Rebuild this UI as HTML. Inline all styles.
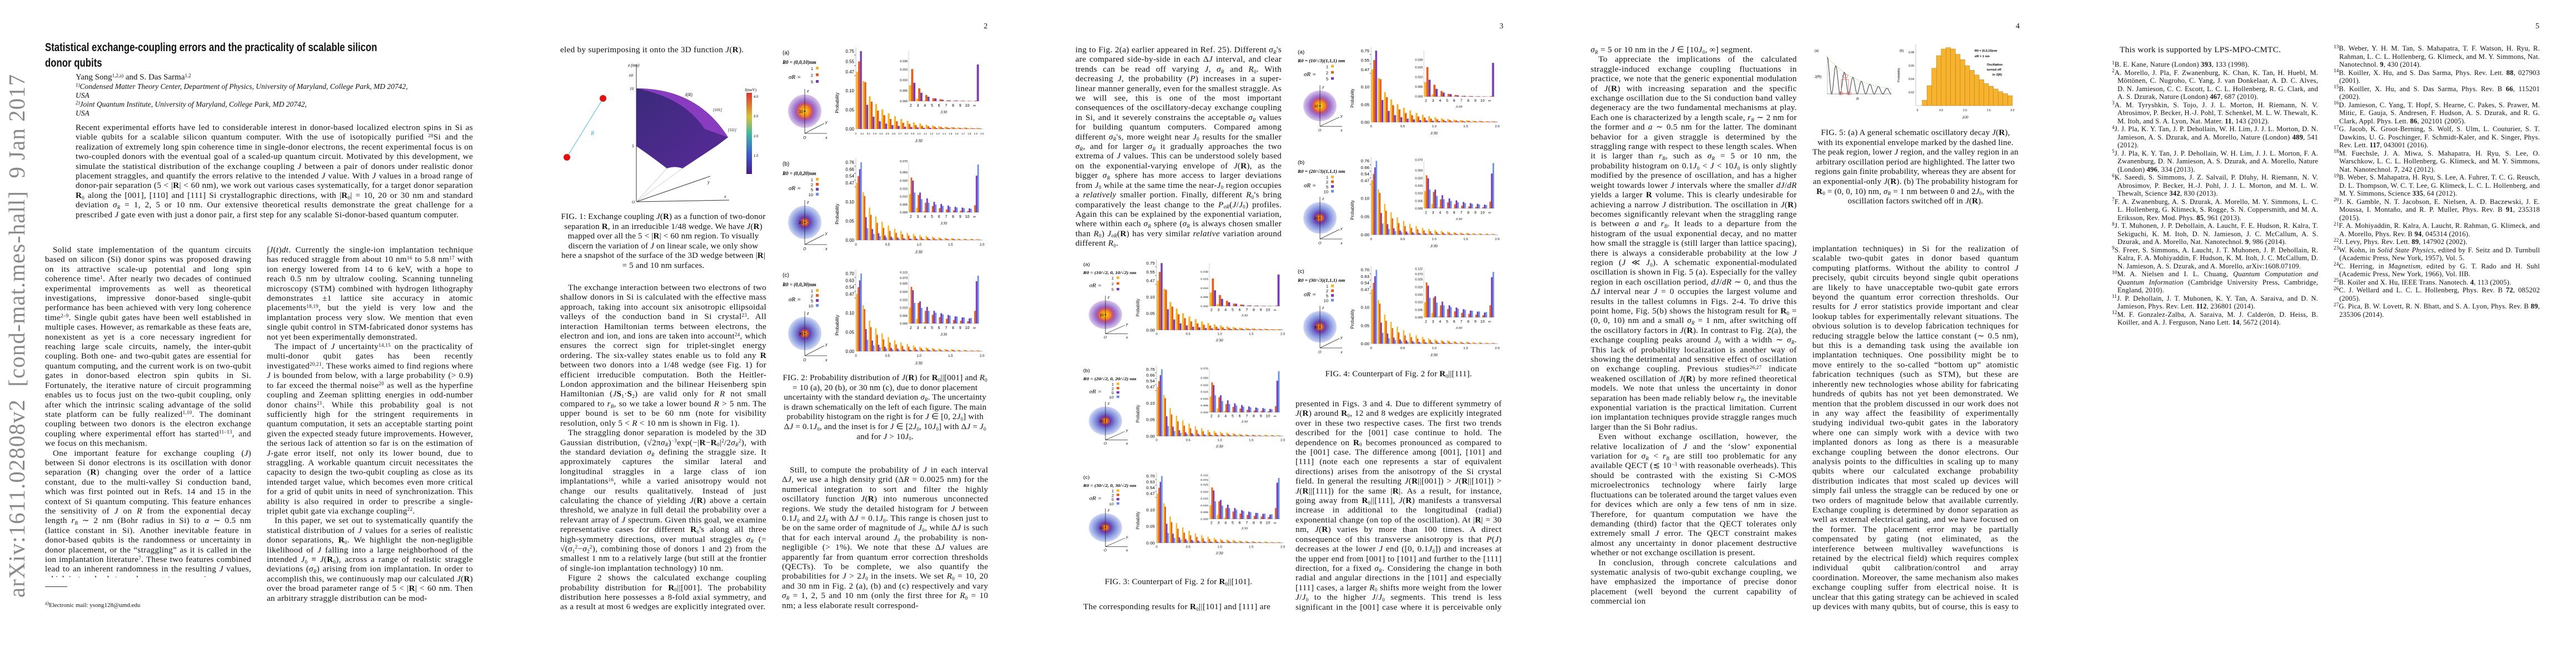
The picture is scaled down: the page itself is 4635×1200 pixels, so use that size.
<!DOCTYPE html>
<html><head><meta charset="utf-8">
<style>
html,body{margin:0;padding:0;background:#fff;}
body{width:4635px;height:1200px;position:relative;overflow:hidden;font-family:"Liberation Serif",serif;color:#111;}
.col{position:absolute;width:371px;font-size:15.2px;letter-spacing:0.3px;line-height:17.4px;text-align:justify;overflow:hidden;hyphens:auto;}
.col p{margin:0;text-indent:14px;}
.col p.ni{text-indent:0;}
sup,sub{font-size:9px;line-height:0;vertical-align:baseline;position:relative;}
sup{top:-0.5em;} sub{top:0.3em;}
.pn{position:absolute;top:40px;font-size:14px;}
.cap{position:absolute;width:371px;font-size:15px;letter-spacing:0.2px;line-height:17.6px;text-align:center;}
.refs{position:absolute;width:371px;font-size:12.6px;letter-spacing:0.2px;line-height:14.5px;text-align:justify;overflow:hidden;}
.refs div{padding-left:10px;text-indent:-10px;margin:0;}
#figs{position:absolute;left:0;top:0;}
</style></head><body>

<div style="position:absolute;left:30px;top:604px;transform:translate(-50%,-50%) rotate(-90deg);white-space:nowrap;font-size:41px;color:#8a8a8a;font-family:'Liberation Serif',serif;letter-spacing:1px;">arXiv:1611.02808v2&nbsp; [cond-mat.mes-hall]&nbsp; 9 Jan 2017</div>

<div style="position:absolute;left:81px;top:72px;font-family:'Liberation Sans',sans-serif;font-weight:bold;font-size:21px;line-height:28px;transform:scaleX(0.8);transform-origin:left top;width:940px;">Statistical exchange-coupling errors and the practicality of scalable silicon<br>donor qubits</div>
<div style="position:absolute;left:136px;top:131px;font-size:15px;line-height:17px;">Yang Song<sup>1,2,a)</sup> and S. Das Sarma<sup>1,2</sup></div>
<div style="position:absolute;left:136px;top:148px;font-size:13.5px;line-height:16px;font-style:italic;width:700px;"><sup>1)</sup>Condensed Matter Theory Center, Department of Physics, University of Maryland, College Park, MD 20742,<br>USA<br><sup>2)</sup>Joint Quantum Institute, University of Maryland, College Park, MD 20742,<br>USA</div>
<div class="col" style="left:136px;top:221px;width:715px;height:192px;"><p class="ni">Recent experimental efforts have led to considerable interest in donor-based localized electron spins in Si as viable qubits for a scalable silicon quantum computer. With the use of isotopically purified <sup>28</sup>Si and the realization of extremely long spin coherence time in single-donor electrons, the recent experimental focus is on two-coupled donors with the eventual goal of a scaled-up quantum circuit. Motivated by this development, we simulate the statistical distribution of the exchange coupling <i>J</i> between a pair of donors under realistic donor placement straggles, and quantify the errors relative to the intended <i>J</i> value. With <i>J</i> values in a broad range of donor-pair separation (5 &lt; |<b>R</b>| &lt; 60 nm), we work out various cases systematically, for a target donor separation <b>R</b><sub>0</sub> along the [001], [110] and [111] Si crystallographic directions, with |<b>R</b><sub>0</sub>| = 10, 20 or 30 nm and standard deviation <i>σ<sub>R</sub></i> = 1, 2, 5 or 10 nm. Our extensive theoretical results demonstrate the great challenge for a prescribed <i>J</i> gate even with just a donor pair, a first step for any scalable Si-donor-based quantum computer.</p></div>

<div class="col" style="left:81px;top:441px;height:598px;"><p>Solid state implementation of the quantum circuits based on silicon (Si) donor spins was proposed drawing on its attractive scale-up potential and long spin coherence time<sup>1</sup>. After nearly two decades of continued experimental improvements as well as theoretical investigations, impressive donor-based single-qubit performance has been achieved with very long coherence time<sup>2–9</sup>. Single qubit gates have been well established in multiple cases. However, as remarkable as these feats are, nonexistent as yet is a core necessary ingredient for reaching large scale circuits, namely, the inter-qubit coupling. Both one- and two-qubit gates are essential for quantum computing, and the current work is on two-qubit gates in donor-based electron spin qubits in Si. Fortunately, the iterative nature of circuit programming enables us to focus just on the two-qubit coupling, only after which the intrinsic scaling advantage of the solid state platform can be fully realized<sup>1,10</sup>. The dominant coupling between two donors is the electron exchange coupling where experimental effort has started<sup>11–13</sup>, and we focus on this mechanism.</p><p>One important feature for exchange coupling (<i>J</i>) between Si donor electrons is its oscillation with donor separation (<b>R</b>) changing over the order of a lattice constant, due to the multi-valley Si conduction band, which was first pointed out in Refs. 14 and 15 in the context of Si quantum computing. This feature enhances the sensitivity of <i>J</i> on <i>R</i> from the exponential decay length <i>r<sub>B</sub></i> ∼ 2 nm (Bohr radius in Si) to <i>a</i> ∼ 0.5 nm (lattice constant in Si). Another inevitable feature in donor-based qubits is the randomness or uncertainty in donor placement, or the “straggling” as it is called in the ion implantation literature<sup>7</sup>. These two features combined lead to an inherent randomness in the resulting <i>J</i> values, which in turn leads to exchange gate errors via</p></div>
<div style="position:absolute;left:81px;top:1055px;width:40px;height:1px;background:#333;"></div>
<div style="position:absolute;left:81px;top:1083px;font-size:11px;"><sup>a)</sup>Electronic mail: ysong128@umd.edu</div>

<div class="col" style="left:480px;top:441px;height:662px;"><p class="ni">∫<i>J</i>(<i>t</i>)<i>dt</i>. Currently the single-ion implantation technique has reduced straggle from about 10 nm<sup>16</sup> to 5.8 nm<sup>17</sup> with ion energy lowered from 14 to 6 keV, with a hope to reach 0.5 nm by ultralow cooling. Scanning tunneling microscopy (STM) combined with hydrogen lithography demonstrates ±1 lattice site accuracy in atomic placements<sup>18,19</sup>, but the yield is very low and the implantation process very slow. We mention that even single qubit control in STM-fabricated donor systems has not yet been experimentally demonstrated.</p><p>The impact of <i>J</i> uncertainty<sup>14,15</sup> on the practicality of multi-donor qubit gates has been recently investigated<sup>20,21</sup>. These works aimed to find regions where <i>J</i> is bounded from below, with a large probability (&gt; 0.9) to far exceed the thermal noise<sup>20</sup> as well as the hyperfine coupling and Zeeman splitting energies in odd-number donor chains<sup>21</sup>. While this probability goal is not sufficiently high for the stringent requirements in quantum computation, it sets an acceptable starting point given the expected steady future improvements. However, the serious lack of attention so far is on the estimation of <i>J</i>-gate error itself, not only its lower bound, due to straggling. A workable quantum circuit necessitates the capacity to design the two-qubit coupling as close as its intended target value, which becomes even more critical for a grid of qubit units in need of synchronization. This ability is also required in order to prescribe a single-triplet qubit gate via exchange coupling<sup>22</sup>.</p><p>In this paper, we set out to systematically quantify the statistical distribution of <i>J</i> values for a series of realistic donor separations, <b>R</b><sub>0</sub>. We highlight the non-negligible likelihood of <i>J</i> falling into a large neighborhood of the intended <i>J</i><sub>0</sub> ≡ <i>J</i>(<b>R</b><sub>0</sub>), across a range of realistic straggle deviations (<i>σ<sub>R</sub></i>) arising from ion implantation. In order to accomplish this, we continuously map our calculated <i>J</i>(<b>R</b>) over the broad parameter range of 5 &lt; |<b>R</b>| &lt; 60 nm. Then an arbitrary straggle distribution can be mod-</p></div>

<!-- PAGE 2 -->
<div class="pn" style="left:1770px;">2</div>
<div class="col" style="left:1008px;top:81px;height:18px;"><p class="ni">eled by superimposing it onto the 3D function <i>J</i>(<b>R</b>).</p></div>
<div class="cap" style="left:1008px;top:382px;">FIG. 1: Exchange coupling <i>J</i>(<b>R</b>) as a function of two-donor separation <b>R</b>, in an irreducible 1/48 wedge. We have <i>J</i>(<b>R</b>) mapped over all the 5 &lt; |<b>R</b>| &lt; 60 nm region. To visually discern the variation of <i>J</i> on linear scale, we only show here a snapshot of the surface of the 3D wedge between |<b>R</b>| = 5 and 10 nm surfaces.</div>
<div class="col" style="left:1008px;top:509px;height:594px;"><p>The exchange interaction between two electrons of two shallow donors in Si is calculated with the effective mass approach, taking into account six anisotropic ellipsoidal valleys of the conduction band in Si crystal<sup>23</sup>. All interaction Hamiltonian terms between electrons, the electron and ion, and ions are taken into account<sup>24</sup>, which ensures the correct sign for triplet-singlet energy ordering. The six-valley states enable us to fold any <b>R</b> between two donors into a 1/48 wedge (see Fig. 1) for efficient irreducible computation. Both the Heitler-London approximation and the bilinear Heisenberg spin Hamiltonian (<i>J</i><b>S</b><sub>1</sub>·<b>S</b><sub>2</sub>) are valid only for <i>R</i> not small compared to <i>r<sub>B</sub></i>, so we take a lower bound <i>R</i> &gt; 5 nm. The upper bound is set to be 60 nm (note for visibility resolution, only 5 &lt; <i>R</i> &lt; 10 nm is shown in Fig. 1).</p><p>The straggling donor separation is modeled by the 3D Gaussian distribution, (√2π<i>σ<sub>R</sub></i>)<sup>−3</sup>exp(−|<b>R</b>−<b>R</b><sub>0</sub>|<sup>2</sup>/2<i>σ<sub>R</sub></i><sup>2</sup>), with the standard deviation <i>σ<sub>R</sub></i> defining the straggle size. It approximately captures the similar lateral and longitudinal straggles in a large class of ion implantations<sup>16</sup>, while a varied anisotropy would not change our results qualitatively. Instead of just calculating the chance of yielding <i>J</i>(<b>R</b>) above a certain threshold, we analyze in full detail the probability over a relevant array of <i>J</i> spectrum. Given this goal, we examine representative cases for different <b>R</b><sub>0</sub>'s along all three high-symmetry directions, over mutual straggles <i>σ<sub>R</sub></i> (= √(<i>σ</i><sub>1</sub><sup>2</sup>−<i>σ</i><sub>2</sub><sup>2</sup>), combining those of donors 1 and 2) from the smallest 1 nm to a relatively large (but still at the frontier of single-ion implantation technology) 10 nm.</p><p>Figure 2 shows the calculated exchange coupling probability distribution for <b>R</b><sub>0</sub>||[001]. The probability distribution here possesses a 8-fold axial symmetry, and as a result at most 6 wedges are explicitly integrated over.</p></div>
<div class="cap" style="left:1407px;top:672px;">FIG. 2: Probability distribution of <i>J</i>(<b>R</b>) for <b>R</b><sub>0</sub>||[001] and <i>R</i><sub>0</sub> = 10 (a), 20 (b), or 30 nm (c), due to donor placement uncertainty with the standard deviation <i>σ<sub>R</sub></i>. The uncertainty is drawn schematically on the left of each figure. The main probability histogram on the right is for <i>J</i> ∈ [0, 2<i>J</i><sub>0</sub>] with Δ<i>J</i> = 0.1<i>J</i><sub>0</sub>, and the inset is for <i>J</i> ∈ [2<i>J</i><sub>0</sub>, 10<i>J</i><sub>0</sub>] with Δ<i>J</i> = <i>J</i><sub>0</sub> and for <i>J</i> &gt; 10<i>J</i><sub>0</sub>.</div>
<div class="col" style="left:1407px;top:837px;height:266px;"><p>Still, to compute the probability of <i>J</i> in each interval Δ<i>J</i>, we use a high density grid (Δ<i>R</i> = 0.0025 nm) for the numerical integration to sort and filter the highly oscillatory function <i>J</i>(<b>R</b>) into numerous unconnected regions. We study the detailed histogram for <i>J</i> between 0.1<i>J</i><sub>0</sub> and 2<i>J</i><sub>0</sub> with Δ<i>J</i> = 0.1<i>J</i><sub>0</sub>. This range is chosen just to be on the same order of magnitude of <i>J</i><sub>0</sub>, while Δ<i>J</i> is such that for each interval around <i>J</i><sub>0</sub> the probability is non-negligible (&gt; 1%). We note that these Δ<i>J</i> values are apparently far from quantum error correction thresholds (QECTs). To be complete, we also quantify the probabilities for <i>J</i> &gt; 2<i>J</i><sub>0</sub> in the insets. We set <i>R</i><sub>0</sub> = 10, 20 and 30 nm in Fig. 2 (a), (b) and (c) respectively and vary <i>σ<sub>R</sub></i> = 1, 2, 5 and 10 nm (only the first three for <i>R</i><sub>0</sub> = 10 nm; a less elaborate result correspond-</p></div>

<!-- PAGE 3 -->
<div class="pn" style="left:2698px;">3</div>
<div class="col" style="left:1935px;top:81px;height:370px;"><p class="ni">ing to Fig. 2(a) earlier appeared in Ref. 25). Different <i>σ<sub>R</sub></i>'s are compared side-by-side in each Δ<i>J</i> interval, and clear trends can be read off varying <i>J</i>, <i>σ<sub>R</sub></i> and <i>R</i><sub>0</sub>. With decreasing <i>J</i>, the probability (<i>P</i>) increases in a super-linear manner generally, even for the smallest straggle. As we will see, this is one of the most important consequences of the oscillatory-decay exchange coupling in Si, and it severely constrains the acceptable <i>σ<sub>R</sub></i> values for building quantum computers. Compared among different <i>σ<sub>R</sub></i>'s, more weight near <i>J</i><sub>0</sub> results for the smaller <i>σ<sub>R</sub></i>, and for larger <i>σ<sub>R</sub></i> it gradually approaches the two extrema of <i>J</i> values. This can be understood solely based on the exponential-varying envelope of <i>J</i>(<b>R</b>), as the bigger <i>σ<sub>R</sub></i> sphere has more access to larger deviations from <i>J</i><sub>0</sub> while at the same time the near-<i>J</i><sub>0</sub> region occupies a <i>relatively</i> smaller portion. Finally, different <i>R</i><sub>0</sub>'s bring comparatively the least change to the <i>P<sub>σR</sub></i>(<i>J</i>/<i>J</i><sub>0</sub>) profiles. Again this can be explained by the exponential variation, where within each <i>σ<sub>R</sub></i> sphere (<i>σ<sub>R</sub></i> is always chosen smaller than <i>R</i><sub>0</sub>) <i>J<sub>σR</sub></i>(<b>R</b>) has very similar <i>relative</i> variation around different <i>R</i><sub>0</sub>.</p></div>
<div class="cap" style="left:1935px;top:1039px;">FIG. 3: Counterpart of Fig. 2 for <b>R</b><sub>0</sub>||[101].</div>
<div class="col" style="left:1935px;top:1083px;height:19px;"><p>The corresponding results for <b>R</b><sub>0</sub>||[101] and [111] are</p></div>
<div class="cap" style="left:2331px;top:665px;">FIG. 4: Counterpart of Fig. 2 for <b>R</b><sub>0</sub>||[111].</div>
<div class="col" style="left:2331px;top:718px;height:385px;"><p class="ni">presented in Figs. 3 and 4. Due to different symmetry of <i>J</i>(<b>R</b>) around <b>R</b><sub>0</sub>, 12 and 8 wedges are explicitly integrated over in these two respective cases. The first two trends described for the [001] case continue to hold. The dependence on <b>R</b><sub>0</sub> becomes pronounced as compared to the [001] case. The difference among [001], [101] and [111] (note each one represents a star of equivalent directions) arises from the anisotropy of the Si crystal field. In general the resulting <i>J</i>(<b>R</b>||[001]) &gt; <i>J</i>(<b>R</b>||[101]) &gt; <i>J</i>(<b>R</b>||[111]) for the same |<b>R</b>|. As a result, for instance, going away from <b>R</b><sub>0</sub>||[111], <i>J</i>(<b>R</b>) manifests a transversal increase in additional to the longitudinal (radial) exponential change (on top of the oscillation). At |<b>R</b>| = 30 nm, <i>J</i>(<b>R</b>) varies by more than 100 times. A direct consequence of this transverse anisotropy is that <i>P</i>(<i>J</i>) decreases at the lower <i>J</i> end ([0, 0.1<i>J</i><sub>0</sub>]) and increases at the upper end from [001] to [101] and further to the [111] direction, for a fixed <i>σ<sub>R</sub></i>. Considering the change in both radial and angular directions in the [101] and especially [111] cases, a larger <i>R</i><sub>0</sub> shifts more weight from the lower <i>J</i>/<i>J</i><sub>0</sub> to the higher <i>J</i>/<i>J</i><sub>0</sub> segments. This trend is less significant in the [001] case where it is perceivable only for</p></div>

<!-- PAGE 4 -->
<div class="pn" style="left:3627px;">4</div>
<div class="col" style="left:2862px;top:81px;height:1022px;"><p class="ni"><i>σ<sub>R</sub></i> = 5 or 10 nm in the <i>J</i> ∈ [10<i>J</i><sub>0</sub>, ∞] segment.</p><p>To appreciate the implications of the calculated straggle-induced exchange coupling fluctuations in practice, we note that the generic exponential modulation of <i>J</i>(<b>R</b>) with increasing separation and the specific exchange oscillation due to the Si conduction band valley degeneracy are the two fundamental mechanisms at play. Each one is characterized by a length scale, <i>r<sub>B</sub></i> ∼ 2 nm for the former and <i>a</i> ∼ 0.5 nm for the latter. The dominant behavior for a given straggle is determined by the straggling range with respect to these length scales. When it is larger than <i>r<sub>B</sub></i>, such as <i>σ<sub>R</sub></i> = 5 or 10 nm, the probability histogram on 0.1<i>J</i><sub>0</sub> &lt; <i>J</i> &lt; 10<i>J</i><sub>0</sub> is only slightly modified by the presence of oscillation, and has a higher weight towards lower <i>J</i> intervals where the smaller <i>dJ</i>/<i>dR</i> yields a larger <b>R</b> volume. This is clearly undesirable for achieving a narrow <i>J</i> distribution. The oscillation in <i>J</i>(<b>R</b>) becomes significantly relevant when the straggling range is between <i>a</i> and <i>r<sub>B</sub></i>. It leads to a departure from the histogram of the usual exponential decay, and no matter how small the straggle is (still larger than lattice spacing), there is always a considerable probability at the low <i>J</i> region (<i>J</i> ≪ <i>J</i><sub>0</sub>). A schematic exponential-modulated oscillation is shown in Fig. 5 (a). Especially for the valley region in each oscillation period, <i>dJ</i>/<i>dR</i> ∼ 0, and thus the Δ<i>J</i> interval near <i>J</i> = 0 occupies the largest volume and results in the tallest columns in Figs. 2-4. To drive this point home, Fig. 5(b) shows the histogram result for <b>R</b><sub>0</sub> = (0, 0, 10) nm and a small <i>σ<sub>R</sub></i> = 1 nm, after switching off the oscillatory factors in <i>J</i>(<b>R</b>). In contrast to Fig. 2(a), the exchange coupling peaks around <i>J</i><sub>0</sub> with a width ∼ <i>σ<sub>R</sub></i>. This lack of probability localization is another way of showing the detrimental and sensitive effect of oscillation on exchange coupling. Previous studies<sup>26,27</sup> indicate weakened oscillation of <i>J</i>(<b>R</b>) by more refined theoretical models. We note that unless the uncertainty in donor separation has been made reliably below <i>r<sub>B</sub></i>, the inevitable exponential variation is the practical limitation. Current ion implantation techniques provide straggle ranges much larger than the Si Bohr radius.</p><p>Even without exchange oscillation, however, the relative localization of <i>J</i> and the ‘slow’ exponential variation for <i>σ<sub>R</sub></i> &lt; <i>r<sub>B</sub></i> are still too problematic for any available QECT (≲ 10<sup>−3</sup> with reasonable overheads). This should be contrasted with the existing Si C-MOS microelectronics technology where fairly large fluctuations can be tolerated around the target values even for devices which are only a few tens of nm in size. Therefore, for quantum computation we have the demanding (third) factor that the QECT tolerates only extremely small <i>J</i> error. The QECT constraint makes almost any uncertainty in donor placement destructive whether or not exchange oscillation is present.</p><p>In conclusion, through concrete calculations and systematic analysis of two-qubit exchange coupling, we have emphasized the importance of precise donor placement (well beyond the current capability of commercial ion</p></div>
<div class="cap" style="left:3261px;top:231px;">FIG. 5: (a) A general schematic oscillatory decay <i>J</i>(<b>R</b>), with its exponential envelope marked by the dashed line. The peak region, lower <i>J</i> region, and the valley region in an arbitrary oscillation period are highlighted. The latter two regions gain finite probability, whereas they are absent for an exponential-only <i>J</i>(<b>R</b>). (b) The probability histogram for <b>R</b><sub>0</sub> = (0, 0, 10) nm, <i>σ<sub>R</sub></i> = 1 nm between 0 and 2<i>J</i><sub>0</sub>, with the oscillation factors switched off in <i>J</i>(<b>R</b>).</div>
<div class="col" style="left:3261px;top:439px;height:664px;"><p class="ni">implantation techniques) in Si for the realization of scalable two-qubit gates in donor based quantum computing platforms. Without the ability to control <i>J</i> precisely, qubit circuits beyond single qubit operations are likely to have unacceptable two-qubit gate errors beyond the quantum error correction thresholds. Our results for <i>J</i> error statistics provide important and clear lookup tables for experimentally relevant situations. The obvious solution is to develop fabrication techniques for reducing straggle below the lattice constant (∼ 0.5 nm), but this is a demanding task using the available ion implantation techniques. One possibility might be to move entirely to the so-called “bottom up” atomistic fabrication techniques (such as STM), but these are inherently new technologies whose ability for fabricating hundreds of qubits has not yet been demonstrated. We mention that the problem discussed in our work does not in any way affect the feasibility of experimentally studying individual two-qubit gates in the laboratory where one can simply work with a device with two implanted donors as long as there is a measurable exchange coupling between the donor electrons. Our analysis points to the difficulties in scaling up to many qubits where our calculated exchange probability distribution indicates that most scaled up devices will simply fail unless the straggle can be reduced by one or two orders of magnitude below that available currently. Exchange coupling is determined by donor separation as well as external electrical gating, and we have focused on the former. The placement error may be partially compensated by gating (not eliminated, as the interference between multivalley wavefunctions is retained by the electrical field) which requires complex individual qubit calibration/control and array coordination. Moreover, the same mechanism also makes exchange coupling suffer from electrical noise. It is unclear that this gating strategy can be achieved in scaled up devices with many qubits, but of course, this is easy to do in a single device with just two donors.</p></div>

<!-- PAGE 5 -->
<div class="pn" style="left:4562px;">5</div>
<div class="col" style="left:3800px;top:81px;height:18px;"><p>This work is supported by LPS-MPO-CMTC.</p></div>
<div class="refs" style="left:3800px;top:109px;height:490px;">
<div><sup>1</sup>B. E. Kane, Nature (London) <b>393</b>, 133 (1998).</div>
<div><sup>2</sup>A. Morello, J. Pla, F. Zwanenburg, K. Chan, K. Tan, H. Huebl, M. Möttönen, C. Nugroho, C. Yang, J. van Donkelaar, A. D. C. Alves, D. N. Jamieson, C. C. Escott, L. C. L. Hollenberg, R. G. Clark, and A. S. Dzurak, Nature (London) <b>467</b>, 687 (2010).</div>
<div><sup>3</sup>A. M. Tyryshkin, S. Tojo, J. J. L. Morton, H. Riemann, N. V. Abrosimov, P. Becker, H.-J. Pohl, T. Schenkel, M. L. W. Thewalt, K. M. Itoh, and S. A. Lyon, Nat. Mater. <b>11</b>, 143 (2012).</div>
<div><sup>4</sup>J. J. Pla, K. Y. Tan, J. P. Dehollain, W. H. Lim, J. J. L. Morton, D. N. Jamieson, A. S. Dzurak, and A. Morello, Nature (London) <b>489</b>, 541 (2012).</div>
<div><sup>5</sup>J. J. Pla, K. Y. Tan, J. P. Dehollain, W. H. Lim, J. J. L. Morton, F. A. Zwanenburg, D. N. Jamieson, A. S. Dzurak, and A. Morello, Nature (London) <b>496</b>, 334 (2013).</div>
<div><sup>6</sup>K. Saeedi, S. Simmons, J. Z. Salvail, P. Dluhy, H. Riemann, N. V. Abrosimov, P. Becker, H.-J. Pohl, J. J. L. Morton, and M. L. W. Thewalt, Science <b>342</b>, 830 (2013).</div>
<div><sup>7</sup>F. A. Zwanenburg, A. S. Dzurak, A. Morello, M. Y. Simmons, L. C. L. Hollenberg, G. Klimeck, S. Rogge, S. N. Coppersmith, and M. A. Eriksson, Rev. Mod. Phys. <b>85</b>, 961 (2013).</div>
<div><sup>8</sup>J. T. Muhonen, J. P. Dehollain, A. Laucht, F. E. Hudson, R. Kalra, T. Sekiguchi, K. M. Itoh, D. N. Jamieson, J. C. McCallum, A. S. Dzurak, and A. Morello, Nat. Nanotechnol. <b>9</b>, 986 (2014).</div>
<div><sup>9</sup>S. Freer, S. Simmons, A. Laucht, J. T. Muhonen, J. P. Dehollain, R. Kalra, F. A. Mohiyaddin, F. Hudson, K. M. Itoh, J. C. McCallum, D. N. Jamieson, A. S. Dzurak, and A. Morello, arXiv:1608.07109.</div>
<div><sup>10</sup>M. A. Nielsen and I. L. Chuang, <i>Quantum Computation and Quantum Information</i> (Cambridge University Press, Cambridge, England, 2010).</div>
<div><sup>11</sup>J. P. Dehollain, J. T. Muhonen, K. Y. Tan, A. Saraiva, and D. N. Jamieson, Phys. Rev. Lett. <b>112</b>, 236801 (2014).</div>
<div><sup>12</sup>M. F. Gonzalez-Zalba, A. Saraiva, M. J. Calderón, D. Heiss, B. Koiller, and A. J. Ferguson, Nano Lett. <b>14</b>, 5672 (2014).</div>
</div>
<div class="refs" style="left:4199px;top:80px;height:495px;">
<div><sup>13</sup>B. Weber, Y. H. M. Tan, S. Mahapatra, T. F. Watson, H. Ryu, R. Rahman, L. C. L. Hollenberg, G. Klimeck, and M. Y. Simmons, Nat. Nanotechnol. <b>9</b>, 430 (2014).</div>
<div><sup>14</sup>B. Koiller, X. Hu, and S. Das Sarma, Phys. Rev. Lett. <b>88</b>, 027903 (2001).</div>
<div><sup>15</sup>B. Koiller, X. Hu, and S. Das Sarma, Phys. Rev. B <b>66</b>, 115201 (2002).</div>
<div><sup>16</sup>D. Jamieson, C. Yang, T. Hopf, S. Hearne, C. Pakes, S. Prawer, M. Mitic, E. Gauja, S. Andresen, F. Hudson, A. S. Dzurak, and R. G. Clark, Appl. Phys. Lett. <b>86</b>, 202101 (2005).</div>
<div><sup>17</sup>G. Jacob, K. Groot-Berning, S. Wolf, S. Ulm, L. Couturier, S. T. Dawkins, U. G. Poschinger, F. Schmidt-Kaler, and K. Singer, Phys. Rev. Lett. <b>117</b>, 043001 (2016).</div>
<div><sup>18</sup>M. Fuechsle, J. A. Miwa, S. Mahapatra, H. Ryu, S. Lee, O. Warschkow, L. C. L. Hollenberg, G. Klimeck, and M. Y. Simmons, Nat. Nanotechnol. <b>7</b>, 242 (2012).</div>
<div><sup>19</sup>B. Weber, S. Mahapatra, H. Ryu, S. Lee, A. Fuhrer, T. C. G. Reusch, D. L. Thompson, W. C. T. Lee, G. Klimeck, L. C. L. Hollenberg, and M. Y. Simmons, Science <b>335</b>, 64 (2012).</div>
<div><sup>20</sup>J. K. Gamble, N. T. Jacobson, E. Nielsen, A. D. Baczewski, J. E. Moussa, I. Montaño, and R. P. Muller, Phys. Rev. B <b>91</b>, 235318 (2015).</div>
<div><sup>21</sup>F. A. Mohiyaddin, R. Kalra, A. Laucht, R. Rahman, G. Klimeck, and A. Morello, Phys. Rev. B <b>94</b>, 045314 (2016).</div>
<div><sup>22</sup>J. Levy, Phys. Rev. Lett. <b>89</b>, 147902 (2002).</div>
<div><sup>23</sup>W. Kohn, in <i>Solid State Physics</i>, edited by F. Seitz and D. Turnbull (Academic Press, New York, 1957), Vol. 5.</div>
<div><sup>24</sup>C. Herring, in <i>Magnetism</i>, edited by G. T. Rado and H. Suhl (Academic Press, New York, 1966), Vol. IIB.</div>
<div><sup>25</sup>B. Koiler and X. Hu, IEEE Trans. Nanotech. <b>4</b>, 113 (2005).</div>
<div><sup>26</sup>C. J. Wellard and L. C. L. Hollenberg, Phys. Rev. B <b>72</b>, 085202 (2005).</div>
<div><sup>27</sup>G. Pica, B. W. Lovett, R. N. Bhatt, and S. A. Lyon, Phys. Rev. B <b>89</b>, 235306 (2014).</div>
</div>

<svg id="figs" width="4635" height="1200" xmlns="http://www.w3.org/2000/svg" font-family="Liberation Sans, sans-serif">
<defs>
<radialGradient id="gA"><stop offset="0" stop-color="#ffd21a"/><stop offset="0.3" stop-color="#f28a1a"/><stop offset="0.45" stop-color="#c4507a"/><stop offset="0.6" stop-color="#9a6cc8"/><stop offset="1" stop-color="#d9c8ee"/></radialGradient>
<radialGradient id="gB"><stop offset="0" stop-color="#ffcc1a"/><stop offset="0.15" stop-color="#e8601c"/><stop offset="0.3" stop-color="#6a3aa8"/><stop offset="0.6" stop-color="#7f8fdc"/><stop offset="1" stop-color="#cfd8f4"/></radialGradient>
<linearGradient id="cbar" x1="0" y1="1" x2="0" y2="0"><stop offset="0" stop-color="#4a1a8a"/><stop offset="0.25" stop-color="#3a5fd0"/><stop offset="0.5" stop-color="#3fb8a0"/><stop offset="0.7" stop-color="#d8c23a"/><stop offset="1" stop-color="#e0302a"/></linearGradient>
<linearGradient id="wedge" x1="0" y1="0" x2="1" y2="1"><stop offset="0" stop-color="#3a2a7a"/><stop offset="0.5" stop-color="#4a2a8a"/><stop offset="1" stop-color="#5a2a9a"/></linearGradient>
</defs>
<g id="fig1">
 <line x1="1085" y1="177" x2="1020" y2="283" stroke="#4cb8e8" stroke-width="1"/>
 <circle cx="1085" cy="177" r="6" fill="#e01010"/><circle cx="1020" cy="283" r="6" fill="#e01010"/>
 <text x="1063" y="243" font-size="10" fill="#3aa8e0" font-style="italic" font-family="Liberation Serif">R</text>
 <line x1="1145" y1="363" x2="1145" y2="116" stroke="#333"/>
 <line x1="1145" y1="363" x2="1312" y2="360" stroke="#333"/>
 <line x1="1145" y1="363" x2="1278" y2="317" stroke="#333"/>
 <line x1="1145" y1="363" x2="1200" y2="303" stroke="#bbb" stroke-width="0.6"/>
 <line x1="1145" y1="363" x2="1228" y2="303" stroke="#bbb" stroke-width="0.6"/>
 <path d="M1145 159 Q1255 159 1310 247 L1290 262 L1228 303 Q1214 298 1200 303 Q1170 280 1145 263 Z" fill="url(#wedge)"/>
 <path d="M1145 159 Q1255 159 1310 247 L1268 232 Q1230 175 1145 159 Z" fill="#8a3cc0"/>
 <text x="1130" y="120" font-size="8" font-family="Liberation Serif" font-style="italic">z (nm)</text>
 <text x="1132" y="138" font-size="7" font-family="Liberation Serif" font-style="italic">60</text>
 <text x="1133" y="162" font-size="7" font-family="Liberation Serif" font-style="italic">10</text>
 <text x="1137" y="265" font-size="7" font-family="Liberation Serif" font-style="italic">5</text>
 <text x="1137" y="366" font-size="7" font-family="Liberation Serif" font-style="italic">O</text>
 <text x="1232" y="173" font-size="8" font-family="Liberation Serif" font-style="italic">J(R)</text>
 <text x="1283" y="200" font-size="7" font-family="Liberation Serif" font-style="italic">[101]</text>
 <text x="1310" y="236" font-size="7" font-family="Liberation Serif" font-style="italic">[111]</text>
 <text x="1273" y="330" font-size="8" font-family="Liberation Serif" font-style="italic">y</text>
 <text x="1303" y="356" font-size="8" font-family="Liberation Serif" font-style="italic">x</text>
 <rect x="1343" y="167" width="10" height="146" fill="url(#cbar)"/>
 <text x="1340" y="164" font-size="7" font-family="Liberation Serif">J(meV)</text>
 <text x="1356" y="176" font-size="6">4.0</text><text x="1356" y="211" font-size="6">3.0</text><text x="1356" y="247" font-size="6">2.0</text><text x="1356" y="282" font-size="6">1.0</text>
</g>
</svg>

<script>
// ---- Fig 2 data (bins J/J0 = 0..1.9 step 0.1; inset bins 2..10, ∞) ----
const mainBins = [0,0.1,0.2,0.3,0.4,0.5,0.6,0.7,0.8,0.9,1.0,1.1,1.2,1.3,1.4,1.5,1.6,1.7,1.8,1.9];
const insetCats = ['2','3','4','5','6','7','8','9','10','∞'];
const f2aSigma1 = [0.47,0.125,0.085,0.065,0.051,0.041,0.033,0.026,0.021,0.017,0.014,0.011,0.009,0.007,0.006,0.005,0.004,0.004,0.003,0.003];
const f2aSigma2 = [0.55,0.122,0.071,0.048,0.036,0.026,0.020,0.016,0.013,0.010,0.008,0.007,0.006,0.005,0.004,0.004,0.003,0.003,0.002,0.002];
const f2aSigma5 = [0.75,0.063,0.032,0.020,0.014,0.010,0.008,0.006,0.005,0.004,0.003,0.003,0.002,0.002,0.002,0.001,0.001,0.001,0.001,0.001];
const f2aIn1 = [0.0075,0.0012,0.0003,0,0,0,0,0,0,0];
const f2aIn2 = [0.0152,0.0061,0.0029,0.0014,0.0009,0.0004,0.0003,0.0002,0.0002,0.0003];
const f2aIn5 = [0.0087,0.0040,0.0021,0.0013,0.0007,0.0004,0.0003,0.0002,0.0001,0.039];
const f2bSigma1 = [0.47,0.125,0.085,0.062,0.048,0.038,0.030,0.024,0.019,0.016,0.013,0.011,0.009,0.007,0.006,0.005,0.004,0.004,0.003,0.003];
const f2bSigma2 = [0.54,0.115,0.066,0.045,0.032,0.024,0.019,0.015,0.012,0.010,0.008,0.007,0.006,0.005,0.004,0.004,0.003,0.003,0.003,0.002];
const f2bSigma5 = [0.66,0.060,0.029,0.018,0.012,0.009,0.007,0.005,0.004,0.004,0.003,0.003,0.002,0.002,0.002,0.002,0.001,0.001,0.001,0.001];
const f2bSigma10 = [0.76,0.031,0.016,0.010,0.007,0.005,0.004,0.003,0.003,0.002,0.002,0.002,0.002,0.001,0.001,0.001,0.001,0.001,0.001,0.001];
const f2bIn1 = [0.0115,0.003,0.001,0,0,0,0,0,0,0];
const f2bIn2 = [0.022,0.011,0.006,0.004,0.0027,0.0018,0.0013,0.001,0.0008,0.0045];
const f2bIn5 = [0.020,0.0125,0.0088,0.0066,0.0053,0.0043,0.0035,0.003,0.0025,0.050];
const f2bIn10 = [0.0125,0.0083,0.0061,0.005,0.0041,0.0035,0.003,0.0026,0.0022,0.070];
const f2cSigma1 = [0.47,0.12,0.08,0.06,0.047,0.037,0.029,0.023,0.019,0.015,0.012,0.010,0.009,0.007,0.006,0.005,0.004,0.004,0.003,0.003];
const f2cSigma2 = [0.54,0.11,0.063,0.043,0.031,0.023,0.018,0.014,0.012,0.010,0.008,0.007,0.006,0.005,0.004,0.004,0.003,0.003,0.002,0.002];
const f2cSigma5 = [0.63,0.058,0.028,0.017,0.012,0.009,0.007,0.005,0.004,0.004,0.003,0.003,0.002,0.002,0.002,0.002,0.001,0.001,0.001,0.001];
const f2cSigma10 = [0.70,0.030,0.015,0.010,0.007,0.005,0.004,0.003,0.003,0.002,0.002,0.002,0.002,0.001,0.001,0.001,0.001,0.001,0.001,0.001];
const f2cIn1 = [0.010,0.003,0.001,0,0,0,0,0,0,0];
const f2cIn2 = [0.023,0.013,0.008,0.0055,0.004,0.003,0.0023,0.0018,0.0014,0.008];
const f2cIn5 = [0.021,0.014,0.0105,0.008,0.0065,0.0054,0.0045,0.0038,0.0032,0.073];
const f2cIn10 = [0.013,0.0098,0.008,0.0068,0.0058,0.005,0.0044,0.0039,0.0035,0.122];
const mainBreaksA = [0.47,0.55,0.75], mainBreaksB = [0.47,0.54,0.66,0.76], mainBreaksC = [0.47,0.54,0.63,0.70];
const insetTicksA = [0,0.005,0.010,0.015], insetTicksB = [0,0.005,0.010,0.015,0.020];
const insetBreaksA = [0.039], insetBreaksB = [0.050,0.070], insetBreaksC = [0.025,0.073,0.122];
// ---- Fig 5b data ----
const f5Bins = [0,0.1,0.2,0.3,0.4,0.5,0.6,0.7,0.8,0.9,1.0,1.1,1.2,1.3,1.4,1.5,1.6,1.7,1.8,1.9];
const f5Prob = [0,0.008,0.030,0.056,0.075,0.085,0.087,0.085,0.077,0.069,0.060,0.053,0.046,0.039,0.033,0.029,0.025,0.021,0.018,0.015];
const f5Ticks = [0.02,0.04,0.06,0.08];

const NS='http://www.w3.org/2000/svg';
const COLORS=['#f6b62a','#e6601c','#7a3cb2','#6a8fe6'];
const svg=document.getElementById('figs');
function mk(tag,attrs,parent,txt){const e=document.createElementNS(NS,tag);for(const k in attrs)e.setAttribute(k,attrs[k]);if(txt!==undefined)e.textContent=txt;parent.appendChild(e);return e;}

function drawPanel(ox,oy,sx,sy,P){
  const g=mk('g',{transform:`translate(${ox},${oy}) scale(${sx},${sy})`},svg);
  
  
  mk('text',{x:3,y:18,'font-size':10},g,P.tag);
  mk('text',{x:3,y:35,'font-size':9,'font-weight':'bold','font-family':'Liberation Serif','font-style':'italic'},g,P.r0);
  mk('text',{x:14,y:62,'font-size':11,'font-family':'Liberation Serif','font-style':'italic'},g,'σR =');
  P.sig.forEach((s,i)=>{const yy=46+i*(P.sig.length>3?9:12);
    mk('text',{x:58,y:yy,'font-size':7.5,'text-anchor':'end'},g,s);
    const sq=mk('rect',{x:63,y:yy-6,width:5,height:5,fill:COLORS[i]},g);
    
    });
  mk('circle',{cx:43,cy:120,r:30,fill:P.grad},g);
  mk('circle',{cx:43,cy:120,r:1.3,fill:'#000'},g);
  mk('text',{x:40,y:123,'font-size':7,'text-anchor':'end'},g,P.rlab);
  mk('line',{x1:43,y1:160,x2:43,y2:80,stroke:'#222','stroke-width':0.8},g);
  mk('line',{x1:43,y1:160,x2:83,y2:160,stroke:'#222','stroke-width':0.8},g);
  mk('line',{x1:43,y1:160,x2:78,y2:142,stroke:'#222','stroke-width':0.8},g);
  mk('text',{x:47,y:86,'font-size':7,'font-style':'italic'},g,'z');
  mk('text',{x:80,y:142,'font-size':7,'font-style':'italic'},g,'y');
  mk('text',{x:80,y:170,'font-size':7,'font-style':'italic'},g,'x');
  mk('text',{x:40,y:170,'font-size':7,'font-style':'italic'},g,'O');
  const X0=135,X1=362,YB=152,K=690;
  const nb=P.breaks.length;
  const bpos=P.breaks.map((b,i)=>49-i*(37/Math.max(1,nb-1)));
  const yMain=v=>{ if(v<=0.13) return YB-K*v; let bi=0,bd=1e9; P.breaks.forEach((b,i)=>{if(Math.abs(b-v)<bd){bd=Math.abs(b-v);bi=i;}}); return bpos[bi];};
  const xMain=i=>X0+(X1-X0)*i/mainBins.length;
  mk('line',{x1:X0,y1:5,x2:X0,y2:YB,stroke:'#999','stroke-width':0.6},g);
  mk('line',{x1:X0,y1:YB,x2:X1+2,y2:YB,stroke:'#999','stroke-width':0.6},g);
  [0,0.05,0.10].forEach(t=>mk('text',{x:X0-3,y:yMain(t)+3,'font-size':8,'text-anchor':'end'},g,t.toFixed(2)));
  P.breaks.forEach((b,i)=>{mk('text',{x:X0-3,y:bpos[i]+3,'font-size':8,'text-anchor':'end'},g,b.toFixed(2));mk('text',{x:X0-3,y:bpos[i]+9,'font-size':5},g,'≈');});
  mk('text',{x:0,y:0,'font-size':8,'text-anchor':'middle',transform:'translate(104,105) rotate(-90)'},g,'Probability');
  const w=(X1-X0)/mainBins.length, bw=w*0.9/P.main.length;
  P.main.forEach((ser,si)=>ser.forEach((v,i)=>{const y=yMain(v);
    const r=mk('rect',{x:xMain(i)+w*0.05+si*bw,y:y,width:bw,height:YB-y,fill:COLORS[si]},g);
    
    }));
  if(P.fine){mainBins.concat([2.0]).forEach((b,i)=>mk('text',{x:X0+(X1-X0)*i/20,y:YB+10,'font-size':4.3,'text-anchor':'middle'},g,i==0?'0':b.toFixed(1)));}
  else{[0,0.5,1.0,1.5,2.0].forEach(b=>mk('text',{x:X0+(X1-X0)*b/2,y:YB+10,'font-size':6,'text-anchor':'middle'},g,b==0?'0':b.toFixed(1)));}
  mk('text',{x:248,y:YB+24,'font-size':8,'font-style':'italic','text-anchor':'middle','font-family':'Liberation Serif'},g,'J/J0');
  const IX0=230,IX1=357,IYB=102,top=P.iticks[P.iticks.length-1],IK=57/top;
  const inb=P.ibreaks.length;
  const ibpos=P.ibreaks.map((b,i)=>36-i*(20/Math.max(1,inb-1)));
  const yIn=v=>{ if(v<=top*1.12) return IYB-IK*v; let bi=0,bd=1e9; P.ibreaks.forEach((b,i)=>{if(Math.abs(b-v)<bd){bd=Math.abs(b-v);bi=i;}}); return ibpos[bi];};
  mk('line',{x1:IX0,y1:12,x2:IX0,y2:IYB,stroke:'#999','stroke-width':0.5},g);
  mk('line',{x1:IX0,y1:IYB,x2:IX1,y2:IYB,stroke:'#999','stroke-width':0.5},g);
  P.iticks.forEach(t=>mk('text',{x:IX0-2,y:yIn(t)+2,'font-size':5.5,'text-anchor':'end'},g,t.toFixed(3)));
  P.ibreaks.forEach((b,i)=>mk('text',{x:IX0-2,y:ibpos[i]-4,'font-size':5.5,'text-anchor':'end'},g,b.toFixed(3)));
  const iw=(IX1-IX0)/insetCats.length, ibw=iw*0.9/P.inset.length;
  P.inset.forEach((ser,si)=>ser.forEach((v,i)=>{const y=yIn(v);
    const r=mk('rect',{x:IX0+i*iw+iw*0.05+si*ibw,y:y,width:ibw,height:IYB-y,fill:COLORS[si]},g);
    
    }));
  insetCats.forEach((c,i)=>mk('text',{x:IX0+i*iw+iw*0.3,y:IYB+10,'font-size':7,'text-anchor':'middle'},g,c));
  mk('text',{x:293,y:IYB+22,'font-size':7,'font-style':'italic','text-anchor':'middle','font-family':'Liberation Serif'},g,'J/J0');
}
const setA={main:[f2aSigma1,f2aSigma2,f2aSigma5],inset:[f2aIn1,f2aIn2,f2aIn5],sig:['1','2','5'],breaks:mainBreaksA,iticks:insetTicksA,ibreaks:insetBreaksA,grad:'url(#gA)'};
const setB={main:[f2bSigma1,f2bSigma2,f2bSigma5,f2bSigma10],inset:[f2bIn1,f2bIn2,f2bIn5,f2bIn10],sig:['1','2','5','10'],breaks:mainBreaksB,iticks:insetTicksB,ibreaks:insetBreaksB,grad:'url(#gB)'};
const setC={main:[f2cSigma1,f2cSigma2,f2cSigma5,f2cSigma10],inset:[f2cIn1,f2cIn2,f2cIn5,f2cIn10],sig:['1','2','5','10'],breaks:mainBreaksC,iticks:insetTicksB,ibreaks:insetBreaksC,grad:'url(#gB)'};
drawPanel(1405,80,1,1,Object.assign({},setA,{name:'fig2a-panel',tag:'(a)',r0:'R0 = (0,0,10)nm',rlab:'10',fine:true}));
drawPanel(1405,280,1,1,Object.assign({},setB,{name:'fig2b-panel',tag:'(b)',r0:'R0 = (0,0,20)nm',rlab:'20'}));
drawPanel(1405,480,1,1,Object.assign({},setC,{name:'fig2c-panel',tag:'(c)',r0:'R0 = (0,0,30)nm',rlab:'30'}));
drawPanel(1946,463,1,0.86,Object.assign({},setA,{name:'fig3a-panel',tag:'(a)',r0:'R0 = (10/√2, 0, 10/√2) nm',rlab:'10'}));
drawPanel(1946,654,1,0.86,Object.assign({},setB,{name:'fig3b-panel',tag:'(b)',r0:'R0 = (20/√2, 0, 20/√2) nm',rlab:'20'}));
drawPanel(1946,846,1,0.86,Object.assign({},setC,{name:'fig3c-panel',tag:'(c)',r0:'R0 = (30/√2, 0, 30/√2) nm',rlab:'30'}));
drawPanel(2332,80,1,0.92,Object.assign({},setA,{name:'fig4a-panel',tag:'(a)',r0:'R0 = (10/√3)(1,1,1) nm',rlab:'10'}));
drawPanel(2332,278,1,0.95,Object.assign({},setB,{name:'fig4b-panel',tag:'(b)',r0:'R0 = (20/√3)(1,1,1) nm',rlab:'20'}));
drawPanel(2332,474,1,0.95,Object.assign({},setC,{name:'fig4c-panel',tag:'(c)',r0:'R0 = (30/√3)(1,1,1) nm',rlab:'30'}));

(function(){
  const g=mk('g',{},svg);
  
  
  mk('text',{x:3265,y:93,'font-size':6},g,'(a)');
  mk('line',{x1:3288,y1:169,x2:3403,y2:169,stroke:'#ccc','stroke-width':2},g);
  mk('line',{x1:3288,y1:100,x2:3288,y2:170,stroke:'#999','stroke-width':0.6},g);
  let d='',e='';
  for(let i=0;i<=230;i++){const t=i/230;const x=3288+t*115;const env=66*Math.exp(-2*t);const y=169-env*(0.5+0.5*Math.cos(t*Math.PI*15));d+=(i?'L':'M')+x.toFixed(1)+' '+y.toFixed(1);e+=(i?'L':'M')+x.toFixed(1)+' '+(169-env).toFixed(1);}
  mk('path',{d:e,fill:'none',stroke:'#8fd14f','stroke-width':0.8,'stroke-dasharray':'2,1.5'},g);
  mk('path',{d:d,fill:'none',stroke:'#222','stroke-width':0.9},g);
  mk('rect',{x:3313,y:143,width:13,height:25,fill:'none',stroke:'#e05050','stroke-width':0.7},g);
  mk('ellipse',{cx:3320,cy:137,rx:5,ry:3,fill:'none',stroke:'#e05050','stroke-width':0.7},g);
  mk('ellipse',{cx:3312,cy:168,rx:4,ry:2.5,fill:'none',stroke:'#e05050','stroke-width':0.7},g);
  mk('ellipse',{cx:3327,cy:168,rx:4,ry:2.5,fill:'none',stroke:'#e05050','stroke-width':0.7},g);
  mk('text',{x:3265,y:140,'font-size':6.5,'font-style':'italic'},g,'J(R)');
  mk('text',{x:3340,y:180,'font-size':6.5,'font-style':'italic'},g,'R');
  const X0=3450,X1=3621,YB=190,K=24/0.02;
  mk('text',{x:3418,y:93,'font-size':6},g,'(b)');
  mk('line',{x1:X0-3,y1:80,x2:X0-3,y2:YB,stroke:'#999','stroke-width':0.6},g);
  mk('line',{x1:X0-3,y1:YB,x2:X1,y2:YB,stroke:'#999','stroke-width':0.6},g);
  f5Ticks.forEach(t=>mk('text',{x:X0-6,y:YB-K*t+2,'font-size':5,'text-anchor':'end'},g,t.toFixed(2)));
  mk('text',{x:0,y:0,'font-size':5.5,'text-anchor':'middle',transform:`translate(3418,${YB-55}) rotate(-90)`},g,'Probability');
  const w=(X1-X0)/f5Bins.length;
  f5Prob.forEach((v,i)=>{const r=mk('rect',{x:X0+i*w,y:YB-K*v,width:w,height:K*v,fill:'#f7b32e',stroke:'#9a6a10','stroke-width':0.4},g);
    
    });
  [0,0.5,1.0,1.5,2.0].forEach(b=>mk('text',{x:X0+(X1-X0)*b/2,y:YB+10,'font-size':5,'text-anchor':'middle'},g,b==0?'0':b.toFixed(1)));
  mk('text',{x:3536,y:YB+23,'font-size':6,'font-style':'italic','text-anchor':'middle'},g,'J/J0');
  mk('text',{x:3553,y:93,'font-size':5.5,'font-weight':'bold'},g,'R0 = (0,0,10)nm');
  mk('text',{x:3553,y:103,'font-size':5.5,'font-weight':'bold'},g,'σR = 1 nm');
  mk('text',{x:3575,y:118,'font-size':5.5,'font-weight':'bold'},g,'Oscillation');
  mk('text',{x:3575,y:127,'font-size':5.5,'font-weight':'bold'},g,'turned off');
  mk('text',{x:3585,y:136,'font-size':5.5,'font-weight':'bold'},g,'in J(R)');
})();
</script>
</body></html>
